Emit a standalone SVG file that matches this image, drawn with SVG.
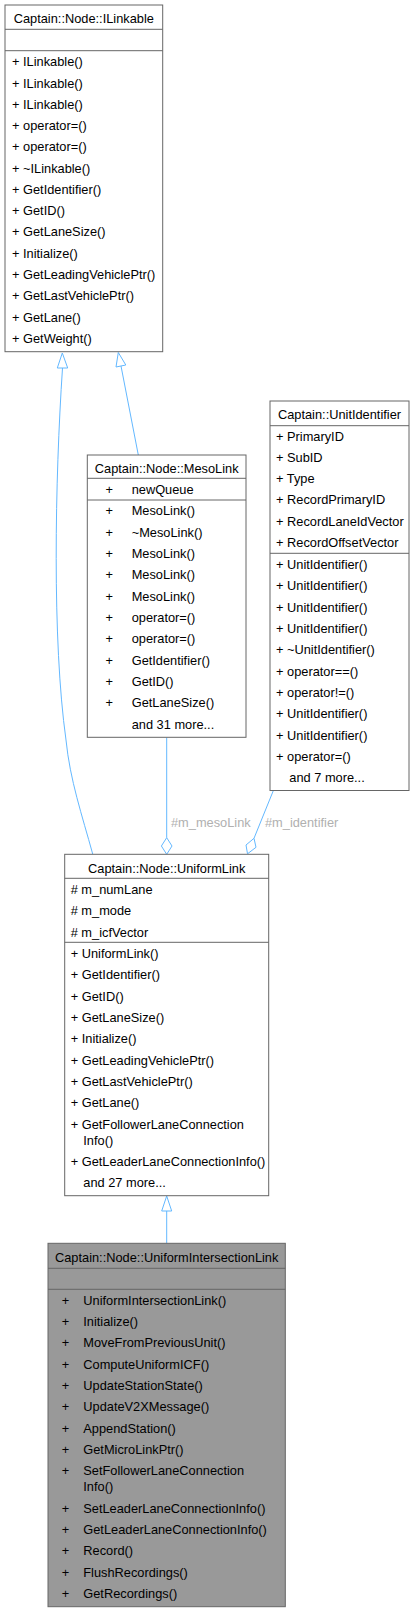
<svg xmlns="http://www.w3.org/2000/svg" width="415" height="1612" viewBox="0 0 415 1612">
<style>
text{font-family:"Liberation Sans",Arial,sans-serif;font-size:12.8px;fill:#000}
.t{text-anchor:middle}
.box{fill:#fff;stroke:#666;stroke-width:1}
.cur{fill:#999;stroke:#666;stroke-width:1}
.sep{stroke:#666;stroke-width:1}
.e{fill:none;stroke:#63b8ff;stroke-width:1}
.ah{fill:#fff;stroke:#63b8ff;stroke-width:1}
.lbl{fill:#b0b0b0}
</style>
<rect width="415" height="1612" fill="#fff"/>
<g id="connectors">
<path class="e" d="M62.5,368 C55,480 52,640 66,740 C70,780 82,815 92.7,854"/>
<polygon class="ah" points="62.3,353 67.7,368 57.3,368"/>
<path class="e" d="M121,366 L138.3,455"/>
<polygon class="ah" points="118.3,352.5 125.8,365 116,367"/>
<path class="e" d="M166.7,737.5 L166.7,837.7"/>
<polygon class="ah" points="166.7,837.7 172,846 166.7,854.3 161.4,846"/>
<text class="lbl" x="171" y="826.7">#m_mesoLink</text>
<path class="e" d="M273.3,790.7 L254,838.3"/>
<polygon class="ah" points="254,838.3 256,847.3 247.5,853.8 246,845"/>
<text class="lbl" x="265" y="826.7">#m_identifier</text>
<path class="e" d="M166.7,1211 L166.7,1243.3"/>
<polygon class="ah" points="166.7,1196 171.7,1211 161.7,1211"/>
</g>
<g id="node_ILinkable">
<rect class="box" x="5" y="5" width="157.7" height="346.7"/>
<line class="sep" x1="5" y1="29.3" x2="162.7" y2="29.3"/>
<line class="sep" x1="5" y1="50.7" x2="162.7" y2="50.7"/>
<text class="t" x="83.8" y="22.8">Captain::Node::ILinkable</text>
<text x="12" y="66.2">+ ILinkable()</text>
<text x="12" y="87.5">+ ILinkable()</text>
<text x="12" y="108.8">+ ILinkable()</text>
<text x="12" y="130">+ operator=()</text>
<text x="12" y="151.3">+ operator=()</text>
<text x="12" y="172.6">+ ~ILinkable()</text>
<text x="12" y="193.9">+ GetIdentifier()</text>
<text x="12" y="215.2">+ GetID()</text>
<text x="12" y="236.4">+ GetLaneSize()</text>
<text x="12" y="257.7">+ Initialize()</text>
<text x="12" y="279">+ GetLeadingVehiclePtr()</text>
<text x="12" y="300.3">+ GetLastVehiclePtr()</text>
<text x="12" y="321.6">+ GetLane()</text>
<text x="12" y="342.8">+ GetWeight()</text>
</g>
<g id="node_MesoLink">
<rect class="box" x="87.3" y="455" width="158.7" height="282.3"/>
<line class="sep" x1="87.3" y1="478.3" x2="246" y2="478.3"/>
<line class="sep" x1="87.3" y1="500" x2="246" y2="500"/>
<text class="t" x="166.7" y="472.8">Captain::Node::MesoLink</text>
<g>
<text x="105.6" y="493.8">+</text><text x="131.7" y="493.8">newQueue</text>
<text x="105.6" y="515.2">+</text><text x="131.7" y="515.2">MesoLink()</text>
<text x="105.6" y="536.6">+</text><text x="131.7" y="536.6">~MesoLink()</text>
<text x="105.6" y="557.9">+</text><text x="131.7" y="557.9">MesoLink()</text>
<text x="105.6" y="579.3">+</text><text x="131.7" y="579.3">MesoLink()</text>
<text x="105.6" y="600.6">+</text><text x="131.7" y="600.6">MesoLink()</text>
<text x="105.6" y="622">+</text><text x="131.7" y="622">operator=()</text>
<text x="105.6" y="643.4">+</text><text x="131.7" y="643.4">operator=()</text>
<text x="105.6" y="664.7">+</text><text x="131.7" y="664.7">GetIdentifier()</text>
<text x="105.6" y="686.1">+</text><text x="131.7" y="686.1">GetID()</text>
<text x="105.6" y="707.4">+</text><text x="131.7" y="707.4">GetLaneSize()</text>
<text x="131.7" y="728.8">and 31 more...</text>
</g>
</g>
<g id="node_UnitIdentifier">
<rect class="box" x="270" y="401" width="139" height="389.5"/>
<line class="sep" x1="270" y1="425.7" x2="409" y2="425.7"/>
<line class="sep" x1="270" y1="553.3" x2="409" y2="553.3"/>
<text class="t" x="339.5" y="418.5">Captain::UnitIdentifier</text>
<text x="276" y="440.8">+ PrimaryID</text>
<text x="276" y="462">+ SubID</text>
<text x="276" y="483.2">+ Type</text>
<text x="276" y="504.4">+ RecordPrimaryID</text>
<text x="276" y="525.6">+ RecordLaneIdVector</text>
<text x="276" y="546.8">+ RecordOffsetVector</text>
<text x="276" y="568.8">+ UnitIdentifier()</text>
<text x="276" y="590.1">+ UnitIdentifier()</text>
<text x="276" y="611.5">+ UnitIdentifier()</text>
<text x="276" y="632.8">+ UnitIdentifier()</text>
<text x="276" y="654.2">+ ~UnitIdentifier()</text>
<text x="276" y="675.5">+ operator==()</text>
<text x="276" y="696.8">+ operator!=()</text>
<text x="276" y="718.2">+ UnitIdentifier()</text>
<text x="276" y="739.5">+ UnitIdentifier()</text>
<text x="276" y="760.9">+ operator=()</text>
<text x="289.3" y="782.2">and 7 more...</text>
</g>
<g id="node_UniformLink">
<rect class="box" x="64.7" y="854.3" width="204" height="341.4"/>
<line class="sep" x1="64.7" y1="878.3" x2="268.7" y2="878.3"/>
<line class="sep" x1="64.7" y1="942.3" x2="268.7" y2="942.3"/>
<text class="t" x="166.7" y="872.8">Captain::Node::UniformLink</text>
<text x="70.7" y="893.8"># m_numLane</text>
<text x="70.7" y="915.2"># m_mode</text>
<text x="70.7" y="936.8"># m_icfVector</text>
<text x="70.7" y="957.8">+ UniformLink()</text>
<text x="70.7" y="978.8">+ GetIdentifier()</text>
<text x="70.7" y="1000.5">+ GetID()</text>
<text x="70.7" y="1021.8">+ GetLaneSize()</text>
<text x="70.7" y="1042.8">+ Initialize()</text>
<text x="70.7" y="1064.5">+ GetLeadingVehiclePtr()</text>
<text x="70.7" y="1085.5">+ GetLastVehiclePtr()</text>
<text x="70.7" y="1106.8">+ GetLane()</text>
<text x="70.7" y="1128.8">+ GetFollowerLaneConnection</text>
<text x="83.3" y="1144.5">Info()</text>
<text x="70.7" y="1166.2">+ GetLeaderLaneConnectionInfo()</text>
<text x="83.3" y="1187.2">and 27 more...</text>
</g>
<g id="node_UniformIntersectionLink">
<rect class="cur" x="48" y="1243.3" width="237.3" height="363.4"/>
<line class="sep" x1="48" y1="1268.3" x2="285.3" y2="1268.3"/>
<line class="sep" x1="48" y1="1289.3" x2="285.3" y2="1289.3"/>
<text class="t" x="166.7" y="1262.2">Captain::Node::UniformIntersectionLink</text>
<text x="61.7" y="1304.5">+</text><text x="83.3" y="1304.5">UniformIntersectionLink()</text>
<text x="61.7" y="1326.2">+</text><text x="83.3" y="1326.2">Initialize()</text>
<text x="61.7" y="1347.2">+</text><text x="83.3" y="1347.2">MoveFromPreviousUnit()</text>
<text x="61.7" y="1368.5">+</text><text x="83.3" y="1368.5">ComputeUniformICF()</text>
<text x="61.7" y="1390.2">+</text><text x="83.3" y="1390.2">UpdateStationState()</text>
<text x="61.7" y="1411.2">+</text><text x="83.3" y="1411.2">UpdateV2XMessage()</text>
<text x="61.7" y="1432.8">+</text><text x="83.3" y="1432.8">AppendStation()</text>
<text x="61.7" y="1453.5">+</text><text x="83.3" y="1453.5">GetMicroLinkPtr()</text>
<text x="61.7" y="1474.5">+</text><text x="83.3" y="1474.5">SetFollowerLaneConnection</text>
<text x="83.3" y="1490.5">Info()</text>
<text x="61.7" y="1512.8">+</text><text x="83.3" y="1512.8">SetLeaderLaneConnectionInfo()</text>
<text x="61.7" y="1533.8">+</text><text x="83.3" y="1533.8">GetLeaderLaneConnectionInfo()</text>
<text x="61.7" y="1555.2">+</text><text x="83.3" y="1555.2">Record()</text>
<text x="61.7" y="1576.8">+</text><text x="83.3" y="1576.8">FlushRecordings()</text>
<text x="61.7" y="1597.8">+</text><text x="83.3" y="1597.8">GetRecordings()</text>
</g>
</svg>
